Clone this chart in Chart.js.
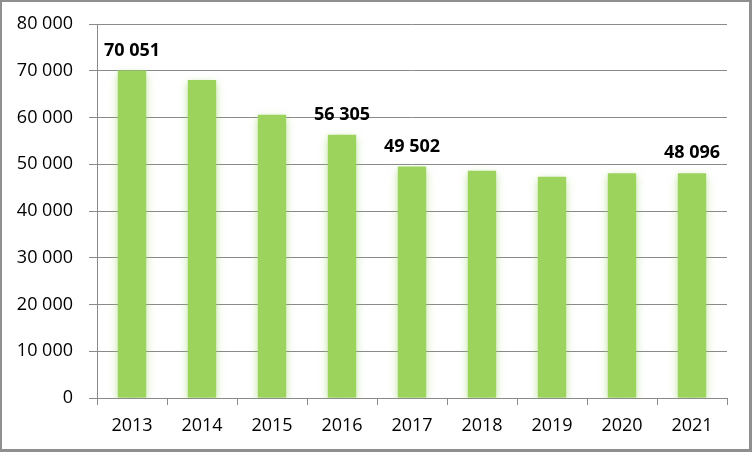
<!DOCTYPE html>
<html>
<head>
<meta charset="utf-8">
<script src="https://cdn.jsdelivr.net/npm/chart.js@4/dist/chart.umd.min.js"></script>
<style>
    body { margin: 0; background: #fff; }
    #wrap {
        width: 752px; height: 452px; box-sizing: border-box;
        border-style: solid; border-color: #8f8f8f;
        border-width: 2px 3px 3px 2px;
    }
</style>
</head>
<body>
<div id="wrap"><canvas id="myChart" width="747" height="447"></canvas></div>
<script>
const years = ['2013', '2014', '2015', '2016', '2017', '2018', '2019', '2020', '2021'];
const values = [70051, 68000, 60600, 56305, 49502, 48600, 47300, 48100, 48096];
// only some bars carry a value label
const valueLabels = ['70 051', null, null, '56 305', '49 502', null, null, null, '48 096'];
const yTicks = [0, 10000, 20000, 30000, 40000, 50000, 60000, 70000, 80000];

const barGreen = '#9bd35c';
const gridGray = '#8a8a8a';

function spaced(v) {
    return String(v).replace(/\B(?=(\d{3})+(?!\d))/g, ' ');
}

//soft glow round the bars
const glowPlugin = {
    id: 'glow',
    beforeDatasetsDraw(chart) {
        const ctx = chart.ctx;
        ctx.save();
        ctx.shadowColor = 'rgba(140, 205, 80, 0.6)';
        ctx.shadowBlur = 8;
        ctx.shadowOffsetY = 3;
    },
    afterDatasetsDraw(chart) {
        chart.ctx.restore();
    }
};

//value labels above selected bars
const valueLabelPlugin = {
    id: 'valueLabels',
    afterDatasetsDraw(chart) {
        const ctx = chart.ctx;
        const meta = chart.getDatasetMeta(0);
        ctx.save();
        ctx.font = 'bold 18px "Open Sans"';
        ctx.fillStyle = '#000';
        ctx.textAlign = 'center';
        ctx.textBaseline = 'alphabetic';
        meta.data.forEach((bar, i) => {
            if (valueLabels[i]) {
                ctx.fillText(valueLabels[i], bar.x, bar.y - 15);
            }
        });
        ctx.restore();
    }
};

Chart.defaults.font.family = '"Open Sans"';
Chart.defaults.font.size = 18;
Chart.defaults.color = '#000';

const config = {
    type: 'bar',
    data: {
        labels: years,
        datasets: [{
            data: values,
            backgroundColor: barGreen,
            borderWidth: 0,
            barPercentage: 0.405,
            categoryPercentage: 1
        }]
    },
    options: {
        responsive: false,
        animation: false,
        layout: {
            padding: { left: 0, right: 22, top: 22, bottom: 0 }
        },
        plugins: {
            legend: { display: false },
            tooltip: { enabled: false }
        },
        scales: {
            x: {
                grid: {
                    drawOnChartArea: false,
                    drawTicks: true,
                    tickLength: 7,
                    color: gridGray
                },
                border: { color: gridGray },
                ticks: { padding: 10 },
                afterFit(scale) { scale.height = 51; }
            },
            y: {
                min: 0,
                max: 80000,
                afterBuildTicks(scale) {
                    scale.ticks = yTicks.map(v => ({ value: v }));
                },
                grid: {
                    color: gridGray,
                    tickLength: 8
                },
                border: { color: gridGray },
                ticks: {
                    padding: 16,
                    callback: (v) => spaced(v)
                },
                afterFit(scale) {
                    scale.width = 95;
                    scale.paddingTop = 0;
                    scale.paddingBottom = 0;
                }
            }
        }
    },
    plugins: [glowPlugin, valueLabelPlugin]
};

let ctx = document.getElementById('myChart').getContext('2d');
var myChart = new Chart(ctx, config);
</script>
</body>
</html>
